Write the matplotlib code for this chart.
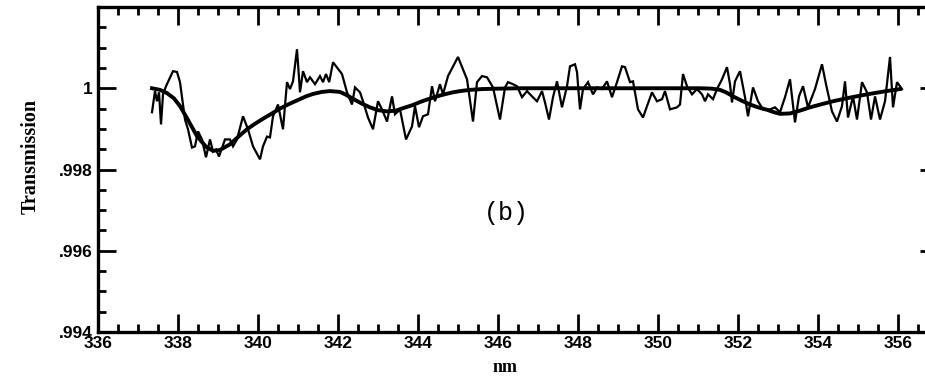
import matplotlib
matplotlib.use("Agg")
import matplotlib.pyplot as plt
from matplotlib.ticker import MultipleLocator, FixedLocator

# Noisy measured transmission
wl_noisy = [337.35, 337.425, 337.475, 337.525, 337.575, 337.625, 337.70, 337.875, 337.975, 338.05,
            338.175, 338.25, 338.35, 338.425, 338.50, 338.60, 338.70, 338.80, 338.875, 338.95,
            339.025, 339.175, 339.30, 339.375, 339.475, 339.625, 339.75, 339.875, 340.05, 340.125,
            340.225, 340.30, 340.375, 340.50, 340.625, 340.725, 340.80, 340.875, 340.975, 341.05,
            341.125, 341.225, 341.30, 341.425, 341.55, 341.625, 341.70, 341.78, 341.875, 342.10,
            342.225, 342.35, 342.425, 342.55, 342.625, 342.75, 342.875, 343.00, 343.10, 343.225,
            343.35, 343.425, 343.55, 343.70, 343.85, 343.925, 344.025, 344.125, 344.25, 344.35,
            344.425, 344.55, 344.625, 344.75, 345.00, 345.225, 345.375, 345.475, 345.60, 345.725,
            345.875, 346.05, 346.175, 346.25, 346.375, 346.475, 346.60, 346.725, 346.85, 346.975,
            347.10, 347.175, 347.275, 347.375, 347.475, 347.60, 347.725, 347.80, 347.925, 347.975,
            348.05, 348.125, 348.25, 348.375, 348.475, 348.60, 348.725, 348.85, 348.975, 349.10,
            349.175, 349.30, 349.375, 349.50, 349.625, 349.725, 349.85, 349.975, 350.10, 350.175,
            350.30, 350.475, 350.55, 350.625, 350.725, 350.85, 350.975, 351.10, 351.175, 351.25,
            351.375, 351.475, 351.60, 351.725, 351.80, 351.85, 351.925, 352.05, 352.175, 352.25,
            352.375, 352.50, 352.625, 352.80, 352.925, 353.05, 353.175, 353.30, 353.425, 353.525,
            353.625, 353.75, 353.925, 354.10, 354.20, 354.35, 354.475, 354.60, 354.675, 354.75,
            354.875, 354.975, 355.10, 355.225, 355.325, 355.425, 355.55, 355.675, 355.80, 355.875,
            355.975, 356.10]
tr_noisy = [0.99941, 0.99993, 0.99968, 0.99990, 0.99911, 0.99985, 1.00005, 1.00042, 1.00040, 1.00015,
            0.99923, 0.99899, 0.99854, 0.99857, 0.99894, 0.99874, 0.99830, 0.99874, 0.99844, 0.99849,
            0.99832, 0.99874, 0.99874, 0.99857, 0.99874, 0.99931, 0.99899, 0.99857, 0.99825, 0.99857,
            0.99881, 0.99879, 0.99931, 0.99960, 0.99899, 1.00015, 0.99998, 1.00017, 1.00096, 0.99990,
            1.00042, 1.00015, 1.00027, 1.00010, 1.00030, 1.00015, 1.00035, 1.00015, 1.00064, 1.00035,
            0.99990, 0.99960, 1.00002, 0.99990, 0.99968, 0.99928, 0.99899, 0.99968, 0.99948, 0.99918,
            0.99980, 0.99936, 0.99948, 0.99874, 0.99906, 0.99956, 0.99904, 0.99931, 0.99936, 1.00005,
            0.99968, 1.00010, 0.99985, 1.00030, 1.00077, 1.00022, 0.99918, 1.00015, 1.00030, 1.00027,
            1.00002, 0.99923, 1.00002, 1.00015, 1.00010, 1.00005, 0.99978, 0.99993, 0.99980, 0.99968,
            0.99993, 0.99965, 0.99923, 0.99978, 1.00017, 0.99953, 1.00005, 1.00054, 1.00059, 1.00040,
            0.99948, 0.99998, 1.00015, 0.99985, 1.00002, 0.99998, 1.00017, 0.99978, 1.00015, 1.00054,
            1.00052, 1.00015, 1.00017, 0.99948, 0.99928, 0.99956, 0.99990, 0.99968, 0.99973, 0.99993,
            0.99948, 0.99953, 0.99960, 1.00035, 1.00005, 0.99985, 0.99998, 0.99985, 0.99968, 0.99985,
            0.99973, 0.99998, 1.00022, 1.00052, 1.00010, 0.99965, 1.00017, 1.00042, 0.99978, 0.99931,
            1.00002, 0.99968, 0.99948, 0.99948, 0.99953, 0.99941, 0.99978, 1.00022, 0.99916, 0.99980,
            1.00005, 0.99953, 0.99998, 1.00059, 1.00010, 0.99943, 0.99918, 0.99956, 1.00017, 0.99928,
            0.99980, 0.99923, 1.00015, 0.99990, 0.99923, 0.99980, 0.99923, 0.99968, 1.00077, 0.99953,
            1.00015, 0.99998]

# Smooth fitted transmission
wl_smooth = [337.35, 337.55, 337.725, 337.9, 338.05, 338.25, 338.475, 338.7, 338.875, 339.05,
             339.30, 339.5, 339.725, 339.9, 340.125, 340.35, 340.55, 340.75, 340.975, 341.2,
             341.375, 341.6, 341.80, 342.05, 342.2, 342.375, 342.6, 342.80, 343.0, 343.225,
             343.45, 343.625, 343.85, 344.05, 344.25, 344.475, 344.7, 344.875, 345.05, 345.30,
             345.6, 346.0, 346.55, 347.5, 348.5, 349.5, 350.5, 351.05, 351.35, 351.55,
             351.7, 351.875, 352.1, 352.30, 352.5, 352.725, 352.9, 353.05, 353.30, 353.55,
             353.80, 354.1, 354.375, 354.8, 355.225, 355.65, 356.05]
tr_smooth = [1.00000, 0.99996, 0.99988, 0.99975, 0.99956, 0.99922, 0.99882, 0.99856, 0.99846, 0.99848,
             0.99862, 0.99880, 0.99899, 0.99911, 0.99925, 0.99938, 0.99950, 0.99960, 0.99970, 0.99980,
             0.99986, 0.99991, 0.99993, 0.99991, 0.99984, 0.99974, 0.99962, 0.99953, 0.99946, 0.99943,
             0.99945, 0.99951, 0.99958, 0.99966, 0.99973, 0.99980, 0.99986, 0.99990, 0.99993, 0.99996,
             0.99998, 0.99999, 1.00000, 1.00000, 1.00000, 1.00000, 1.00000, 1.00000, 0.99999, 0.99996,
             0.99990, 0.99980, 0.99969, 0.99960, 0.99953, 0.99947, 0.99941, 0.99937, 0.99938, 0.99945,
             0.99953, 0.99961, 0.99968, 0.99977, 0.99985, 0.99992, 0.99998]

x_major = [336, 338, 340, 342, 344, 346, 348, 350, 352, 354, 356]
x_labels = ["336", "338", "340", "342", "344", "346", "348", "350", "352", "354", "356"]
y_major = [0.994, 0.996, 0.998, 1.000]
y_labels = [".994", ".996", ".998", "1"]

fig = plt.figure(figsize=(9.25, 3.77), dpi=100)
ax = fig.add_axes([98/925, 45/377, 840/925, 325/377])

ax.plot(wl_noisy, tr_noisy, color="black", lw=1.6, solid_joinstyle="miter")
ax.plot(wl_smooth, tr_smooth, color="black", lw=2.8, solid_joinstyle="round")

ax.set_xlim(336, 357)
ax.set_ylim(0.994, 1.002)

ax.xaxis.set_major_locator(FixedLocator(x_major))
ax.set_xticklabels(x_labels)
ax.xaxis.set_minor_locator(MultipleLocator(0.5))
ax.yaxis.set_major_locator(FixedLocator(y_major))
ax.set_yticklabels(y_labels)
ax.yaxis.set_minor_locator(MultipleLocator(0.0005))

for t in ax.get_xticklabels() + ax.get_yticklabels():
    t.set_fontfamily("Liberation Sans")
    t.set_fontweight("bold")
    t.set_fontsize(12.5)

ax.tick_params(which="both", direction="in", top=True, right=True, width=2.0, color="black")
ax.tick_params(which="major", length=13, pad=4)
ax.tick_params(which="minor", length=6)
ax.tick_params(axis="x", which="major", pad=3)

for s in ax.spines.values():
    s.set_linewidth(2.4)

ax.set_xlabel("nm", family="Liberation Serif", weight="bold", size=13)
ax.set_ylabel("Transmission", family="Liberation Serif", weight="bold", size=14.5)
ax.xaxis.set_label_coords(0.4845, -0.083)
ax.yaxis.set_label_coords(-0.068, 0.54)

ax.text(346.2, 0.99694, "(b)", family="Liberation Mono", size=18, ha="center", va="center")

fig.savefig("out.png", dpi=100)
